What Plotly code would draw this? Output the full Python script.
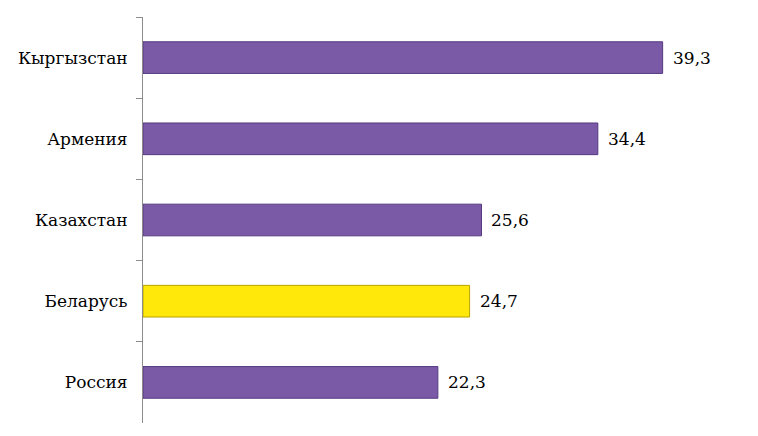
import plotly.graph_objects as go

categories = ["Кыргызстан", "Армения", "Казахстан", "Беларусь", "Россия"]
values = [39.3, 34.4, 25.6, 24.7, 22.3]
value_labels = ["39,3", "34,4", "25,6", "24,7", "22,3"]
highlight = "Беларусь"

PURPLE = "#7a5aa6"
PURPLE_EDGE = "#553a80"
YELLOW = "#ffe80a"
YELLOW_EDGE = "#b9a500"

fill = [YELLOW if c == highlight else PURPLE for c in categories]
edge = [YELLOW_EDGE if c == highlight else PURPLE_EDGE for c in categories]

FONT = "DejaVu Serif"

fig = go.Figure()
fig.add_trace(go.Bar(
    x=values, y=categories, orientation="h",
    marker=dict(color=fill, line=dict(color=edge, width=1)),
    width=0.39,
    hoverinfo="skip",
))

for v, c, t in zip(values, categories, value_labels):
    fig.add_annotation(x=v, y=c, text=t, showarrow=False,
                       xanchor="left", yanchor="middle", xshift=8,
                       font=dict(family=FONT, size=17, color="#000000"))

fig.update_layout(
    width=758, height=436,
    margin=dict(l=143, r=20, t=17, b=13),
    paper_bgcolor="white", plot_bgcolor="white",
    showlegend=False,
    bargap=0.6,
    font=dict(family=FONT, size=17, color="#000000"),
)
fig.update_xaxes(range=[0, 45], visible=False, showgrid=False, zeroline=False)
fig.update_yaxes(
    type="category", categoryorder="array", categoryarray=categories,
    autorange="reversed", automargin=False,
    showline=True, linecolor="#8c8c8c", linewidth=1,
    ticks="outside", tickson="boundaries", ticklen=6, tickcolor="#8c8c8c",
    showgrid=False, zeroline=False,
    tickfont=dict(family=FONT, size=17, color="#000000"),
    ticklabelstandoff=11,
)

fig.write_html("out.html", config={"displayModeBar": False},
               post_script="document.body.style.margin='0';")
